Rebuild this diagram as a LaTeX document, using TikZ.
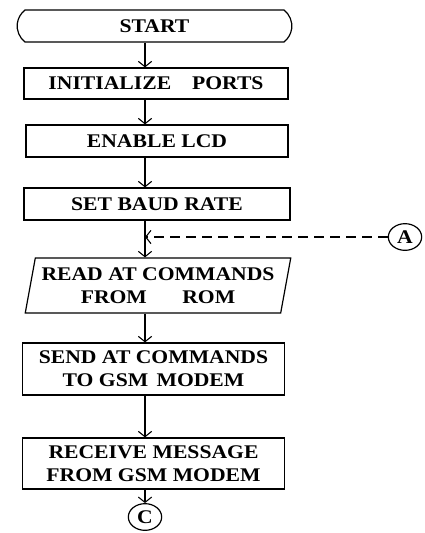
\documentclass[tikz,border=0pt]{standalone}
\usepackage{fontspec}
\setmainfont[FakeStretch=1.12]{Liberation Serif}
\usetikzlibrary{arrows.meta,shapes.geometric,shapes.misc}

\begin{document}
\begin{tikzpicture}[x=0.75pt,y=-0.75pt,>={Straight Barb[length=4pt,width=10pt]},
  every node/.style={font=\fontsize{14.5}{17}\selectfont\bfseries,align=center,inner sep=0pt},
  box/.style={draw,line width=0.9pt,rectangle},
  term/.style={draw,line width=0.9pt,rounded rectangle,rounded rectangle arc length=105},
  io/.style={draw,line width=0.9pt,trapezium,trapezium left angle=75,trapezium right angle=105,trapezium stretches=true},
  conn/.style={draw,line width=0.9pt,ellipse,minimum width=25pt,minimum height=20pt}]
\useasboundingbox (0,0) rectangle (425,533);
\coordinate (spine) at (145,0);
\node[term,minimum width=206pt,minimum height=24pt] (start) at (154.5,26) {START};
\node[box,minimum width=198pt,minimum height=23.25pt] (init) at (156,83.5) {INITIALIZE \hspace{0.8em}PORTS};
\node[box,minimum width=196.5pt,minimum height=24pt] (lcd) at (157,141) {ENABLE LCD};
\node[box,minimum width=199.5pt,minimum height=24pt] (baud) at (157,204) {SET BAUD RATE};
\node[io,minimum width=199.5pt,minimum height=41.25pt] (read) at (158,285.5) {READ AT COMMANDS\\FROM \hspace{1.55em}ROM};
\node[box,minimum width=197pt,minimum height=39pt] (send) at (153.5,369) {SEND AT COMMANDS\\TO GSM \hspace{0.15em}MODEM};
\node[box,minimum width=197pt,minimum height=38.25pt] (recv) at (153.5,463.5) {RECEIVE MESSAGE\\FROM GSM MODEM};
\node[conn] (c) at (145,517) {C};
\node[conn] (a) at (405,237) {A};
\coordinate (join) at (145,237);
% main flow
\draw[->,line width=0.8pt] (start.south -| spine) -- (init.north -| spine);
\draw[->,line width=0.8pt] (init.south -| spine) -- (lcd.north -| spine);
\draw[->,line width=0.8pt] (lcd.south -| spine) -- (baud.north -| spine);
\draw[->,line width=0.8pt] (baud.south -| spine) -- (read.north -| spine);
\draw[->,line width=0.8pt] (read.south -| spine) -- (send.north -| spine);
\draw[->,line width=0.8pt] (send.south -| spine) -- (recv.north -| spine);
\draw[->,line width=0.8pt] (recv.south -| spine) -- (c);
% return from A
\draw[->,line width=0.8pt,dash pattern=on 7.5pt off 4.5pt] (a) -- (join);
\end{tikzpicture}
\end{document}
